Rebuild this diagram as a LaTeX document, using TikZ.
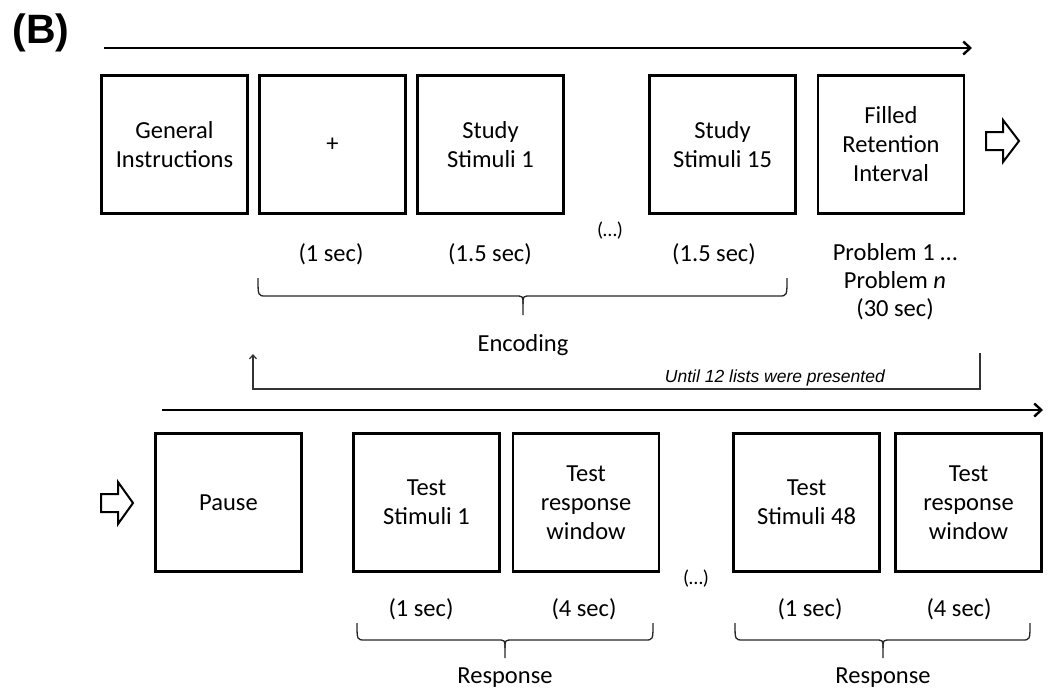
\documentclass[tikz,border=0pt]{standalone}
\usepackage{fontspec}
\setmainfont{Carlito}
\newfontfamily\arialfont{Liberation Sans}
\usetikzlibrary{arrows.meta}
\begin{document}
\begin{tikzpicture}[x=1pt,y=-1pt,
  box/.style={draw,line width=2.6pt,minimum width=146pt,minimum height=138pt,inner sep=0pt,align=center,font=\fontsize{24.5}{29}\selectfont},
  lbl/.style={align=center,inner sep=0pt,font=\fontsize{24.5}{28}\selectfont},
  timeline/.style={line width=2.8pt,-{Straight Barb[length=7pt,width=13pt,line width=2.4pt]}},
  loopline/.style={line width=1.4pt,draw=black!80},
  bracestyle/.style={line width=1.3pt,draw=black!85},
  hollow/.style={draw,line width=2pt,fill=white,line join=miter}]
\useasboundingbox (0,0) rectangle (1049,696);

\node[font=\arialfont\bfseries\fontsize{41}{46}\selectfont,anchor=center] (B) at (41,33) {(B)};

% top timeline
\coordinate (t1s) at (104,48);
\coordinate (t1e) at (972,48);
\draw[timeline] (t1s) -- (t1e);

% top boxes
\node[box] (gi) at (174.5,144.5) {General\\Instructions};
\node[box] (fix) at (332.5,144.5) {+};
\node[box] (s1) at (490.5,144.5) {Study\\Stimuli 1};
\node[box] (s15) at (722.5,144.5) {Study\\Stimuli 15};
\node[box] (fri) at (891,144.5) {Filled\\Retention\\Interval};

% hollow arrow right
\draw[hollow] (986,132) -- (1003,132) -- (1003,120) -- (1019,141) -- (1003,162) -- (1003,150) -- (986,150) -- cycle;

% top labels
\node[lbl] (l1) at (331,254) {(1 sec)};
\node[lbl] (l2) at (490,254) {(1.5 sec)};
\node[lbl,font=\fontsize{20}{22}\selectfont] (dots1) at (610,231) {(…)};
\node[lbl] (l3) at (714,254) {(1.5 sec)};
\node[lbl] (prob) at (895,282) {Problem 1 …\\Problem \textit{n}\\(30 sec)};

% encoding brace
\draw[bracestyle] (258,278) .. controls (258,296) .. (266,296) -- (515,296) .. controls (523,296) .. (523,304) -- (523,315);
\draw[bracestyle] (787,278) .. controls (787,296) .. (779,296) -- (531,296) .. controls (523,296) .. (523,304);
\node[lbl] (enc) at (523,345) {Encoding};

% loop line
\coordinate (lpR) at (980,353);
\coordinate (lpRb) at (980,389);
\coordinate (lpLb) at (253,389);
\coordinate (lpL) at (253,354);
\draw[loopline,-{Straight Barb[length=4pt,width=7pt,line width=1.2pt]}] (lpR) -- (lpRb) -- (lpLb) -- (lpL);
\node[font=\arialfont\itshape\fontsize{17.5}{20}\selectfont,anchor=base east,inner sep=0pt] (until) at (885,382) {Until 12 lists were presented};

% bottom timeline
\coordinate (t2s) at (162,410);
\coordinate (t2e) at (1043,410);
\draw[timeline] (t2s) -- (t2e);

% hollow arrow left
\draw[hollow] (101,494) -- (118,494) -- (118,482) -- (133,503) -- (118,524) -- (118,512) -- (101,512) -- cycle;

% bottom boxes
\node[box] (pause) at (228.5,502.5) {Pause};
\node[box] (ts1) at (426.5,502.5) {Test\\Stimuli 1};
\node[box] (tr1) at (586,502.5) {Test\\response\\window};
\node[lbl,font=\fontsize{20}{22}\selectfont] (dots2) at (696,579) {(…)};
\node[box] (ts48) at (806.5,502.5) {Test\\Stimuli 48};
\node[box] (tr2) at (968.5,502.5) {Test\\response\\window};

% bottom labels
\node[lbl] (b1) at (421,609) {(1 sec)};
\node[lbl] (b2) at (584,609) {(4 sec)};
\node[lbl] (b3) at (810,609) {(1 sec)};
\node[lbl] (b4) at (959,609) {(4 sec)};

% response braces
\draw[bracestyle] (357,623) .. controls (357,640) .. (365,640) -- (497,640) .. controls (505,640) .. (505,648) -- (505,658);
\draw[bracestyle] (653,623) .. controls (653,640) .. (645,640) -- (513,640) .. controls (505,640) .. (505,648);
\node[lbl] (r1) at (505,678) {Response};

\draw[bracestyle] (735,623) .. controls (735,640) .. (743,640) -- (875,640) .. controls (883,640) .. (883,648) -- (883,658);
\draw[bracestyle] (1030,623) .. controls (1030,640) .. (1022,640) -- (891,640) .. controls (883,640) .. (883,648);
\node[lbl] (r2) at (883,678) {Response};
\end{tikzpicture}
\end{document}
